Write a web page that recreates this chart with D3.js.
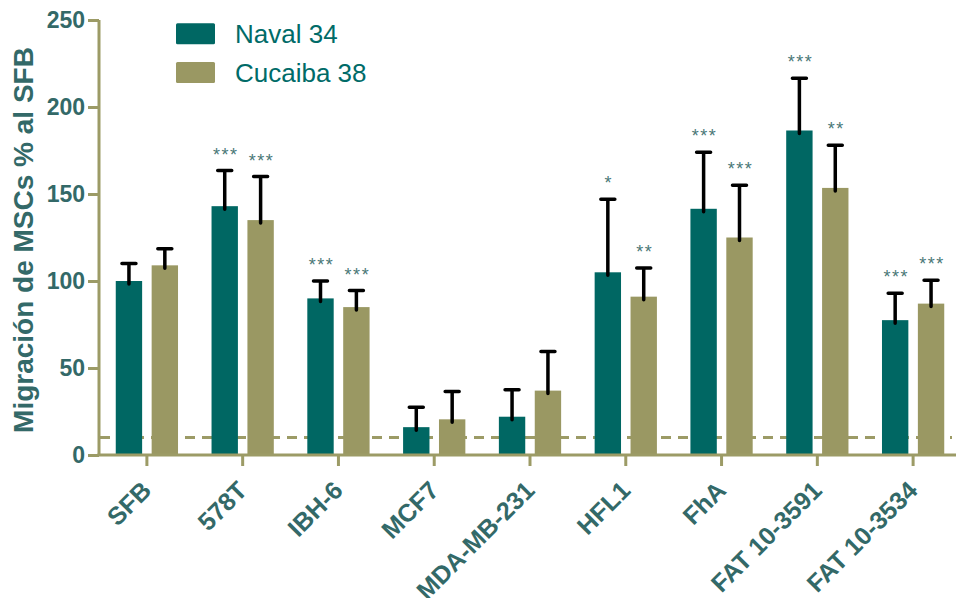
<!DOCTYPE html>
<html>
<head>
<meta charset="utf-8">
<script src="https://cdn.jsdelivr.net/npm/d3@7"></script>
<style>
  html, body { margin: 0; padding: 0; background: #ffffff; }
  svg { display: block; }
  text { font-family: "Liberation Sans", Arial, Helvetica, sans-serif; }
</style>
</head>
<body>
<svg id="chart" width="956" height="598"></svg>
<script>
// Cell lines tested
const categories = ["SFB", "578T", "IBH-6", "MCF7", "MDA-MB-231", "HFL1", "FhA", "FAT 10-3591", "FAT 10-3534"];
// Series names
const seriesNames = ["Naval 34", "Cucaiba 38"];
// Mean migration (% of SFB) and upper error per series
const navalValues = [100, 143, 90, 16, 22, 105, 141.5, 186.5, 77.5];
const navalErrors = [10, 20.5, 10, 11.5, 15.5, 42, 32.5, 30, 15.5];
const cucaibaValues = [109, 135, 85, 20.5, 37, 91, 125, 153.5, 87];
const cucaibaErrors = [9.5, 25, 9.5, 16, 22.5, 16.5, 30, 24.5, 13.5];
// Significance marks above each bar
const navalSig = ["", "***", "***", "", "", "*", "***", "***", "***"];
const cucaibaSig = ["", "***", "***", "", "", "**", "***", "**", "***"];
// Y axis ticks and baseline reference level
const yTicks = [0, 50, 100, 150, 200, 250];
const referenceLevel = 10;

const colors = { "Naval 34": "#006763", "Cucaiba 38": "#9a9863" };
const axisColor = "#9c9b66";
const labelColor = "#336968";

const svg = d3.select("#chart");

const x0 = d3.scaleBand().domain(categories).range([99, 961]).padding(0);
const x1 = d3.scaleBand().domain(seriesNames).range([0, x0.bandwidth()])
  .paddingInner(0.265).paddingOuter(0.467);
const y = d3.scaleLinear().domain([0, 250]).range([455, 20]);

const rows = categories.map((c, i) => ({
  cat: c,
  bars: [
    { s: "Naval 34", v: navalValues[i], e: navalErrors[i], sig: navalSig[i] },
    { s: "Cucaiba 38", v: cucaibaValues[i], e: cucaibaErrors[i], sig: cucaibaSig[i] }
  ]
}));

// dashed reference line (behind bars)
svg.append("line")
  .attr("x1", 100).attr("x2", 952)
  .attr("y1", y(referenceLevel)).attr("y2", y(referenceLevel))
  .attr("stroke", axisColor).attr("stroke-width", 3)
  .attr("stroke-dasharray", "10,7");

// bars
const groups = svg.append("g").selectAll("g").data(rows).join("g")
  .attr("transform", d => `translate(${x0(d.cat)},0)`);

groups.selectAll("rect").data(d => d.bars).join("rect")
  .attr("x", d => x1(d.s))
  .attr("width", x1.bandwidth())
  .attr("y", d => y(d.v))
  .attr("height", d => y(0) - y(d.v))
  .attr("fill", d => colors[d.s]);

// error bars (upper only)
const capHalf = 7;
groups.selectAll("path.err").data(d => d.bars).join("path")
  .attr("class", "err")
  .attr("d", d => {
    const cx = x1(d.s) + x1.bandwidth() / 2;
    const top = y(d.v + d.e);
    return `M${cx},${y(d.v) + 3}V${top}M${cx - capHalf},${top}H${cx + capHalf}`;
  })
  .attr("fill", "none").attr("stroke", "#000").attr("stroke-width", 3.5)
  .attr("stroke-linecap", "round");

// significance stars
groups.selectAll("text.sig").data(d => d.bars.filter(b => b.sig)).join("text")
  .attr("class", "sig")
  .attr("x", d => x1(d.s) + x1.bandwidth() / 2 + 1)
  .attr("y", d => y(d.v + d.e) - 10)
  .attr("text-anchor", "middle")
  .attr("font-size", 18)
  .attr("letter-spacing", 1.5)
  .attr("fill", "#4a7877")
  .text(d => d.sig);

// Y axis
const yAxis = svg.append("g").attr("transform", "translate(99,0)")
  .call(d3.axisLeft(y).tickValues(yTicks).tickSize(11).tickPadding(3).tickSizeOuter(0));
yAxis.select(".domain").attr("stroke", axisColor).attr("stroke-width", 3)
  .attr("d", `M0,${y(250)}V${y(0)}`);
yAxis.selectAll(".tick line").attr("stroke", axisColor).attr("stroke-width", 3);
yAxis.selectAll(".tick text")
  .attr("font-size", 23).attr("font-weight", "bold").attr("fill", labelColor)
  .attr("font-family", "'Liberation Sans', Arial, sans-serif");

// X axis
const xAxis = svg.append("g").attr("transform", `translate(0,${y(0)})`)
  .call(d3.axisBottom(x0).tickSize(11).tickSizeOuter(0));
xAxis.select(".domain").attr("stroke", axisColor).attr("stroke-width", 3)
  .attr("d", "M97.5,0H956");
xAxis.selectAll(".tick line").attr("stroke", axisColor).attr("stroke-width", 3);
xAxis.selectAll(".tick text")
  .attr("font-size", 25).attr("font-weight", "bold").attr("fill", labelColor)
  .attr("font-family", "'Liberation Sans', Arial, sans-serif")
  .attr("text-anchor", "end")
  .attr("y", 0).attr("dy", 0)
  .attr("transform", "translate(6,37) rotate(-45)");

// Y axis title
svg.append("text")
  .attr("transform", "translate(33,240) rotate(-90)")
  .attr("text-anchor", "middle")
  .attr("font-size", 28).attr("font-weight", "bold").attr("fill", labelColor)
  .text("Migración de MSCs % al SFB");

// Legend
const legend = svg.append("g").selectAll("g").data(seriesNames).join("g")
  .attr("transform", (d, i) => `translate(176,${23.3 + i * 38.7})`);
legend.append("rect")
  .attr("width", 39).attr("height", 21).attr("rx", 1.5)
  .attr("fill", d => colors[d]);
legend.append("text")
  .attr("x", 59).attr("y", 19.5)
  .attr("font-size", 26).attr("fill", "#006b68")
  .text(d => d);
</script>
</body>
</html>
